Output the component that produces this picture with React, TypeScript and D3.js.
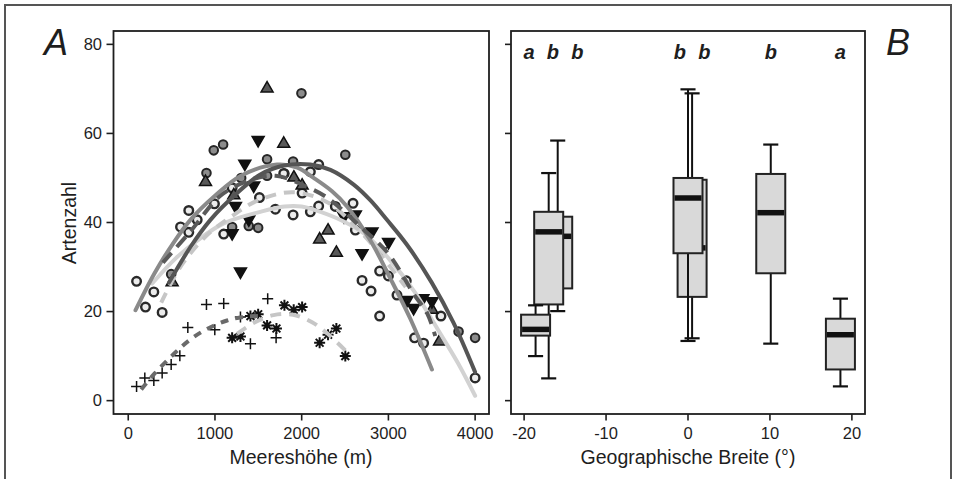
import React from "react";
import * as d3 from "d3";

// ---------- axis ticks ----------
const elevTicks = [0, 1000, 2000, 3000, 4000];
const richTicks = [0, 20, 40, 60, 80];
const latTicks = [-20, -10, 0, 10, 20];

// ---------- panel A: observations [Meereshöhe (m), Artenzahl] ----------
const circleGreyPts: [number, number][] = [
  [1997, 69], [2503, 55.2], [3809, 15.5], [4000, 14.1], [986, 56.2], [1094, 57.5],
  [1601, 54.2], [902, 51.1], [1302, 50], [1601, 50.5], [1800, 51], [1390, 39.2],
  [1498, 38.8], [1198, 39], [495, 28.4], [1901, 53.7],
];
const circleWhitePts: [number, number][] = [
  [96, 26.8], [199, 21], [295, 24.4], [391, 19.8], [603, 39], [698, 37.8], [795, 40.6],
  [698, 42.7], [1101, 37.4], [994, 44.2], [1198, 47.8], [1513, 45.6], [1697, 43],
  [1901, 41.7], [2196, 53], [2100, 51.4], [2005, 46.6], [2196, 43.7], [2100, 42.4],
  [2388, 43.6], [2592, 44.3], [2619, 38.3], [2899, 29.1], [2696, 27], [2800, 24.6],
  [3000, 28], [3206, 26.9], [3099, 23.7], [2899, 19], [3606, 19], [3302, 14.1],
  [3406, 12.9], [4000, 5.1], [1793, 51],
];
const triUpPts: [number, number][] = [
  [1601, 70.2], [1793, 57.8], [891, 49.2], [1910, 50.2], [2005, 48.4], [506, 26.7],
  [2207, 36.3], [2304, 38.3], [2400, 33.3], [3502, 20.5], [3590, 13.4], [1217, 46.2],
];
const triDownPts: [number, number][] = [
  [1498, 58.4], [1344, 53.1], [1447, 48.2], [1236, 43.6], [1390, 40.6], [1198, 37.5],
  [1294, 28.9], [2488, 41.3], [2619, 41.7], [2811, 37.9], [3002, 35.5], [2696, 33],
  [2906, 33.4], [3214, 22.5], [3291, 20.7], [3398, 22.9], [3502, 22.2],
];
const plusPts: [number, number][] = [
  [96, 3.2], [191, 5.1], [295, 4.5], [391, 6.2], [495, 8.1], [595, 10.1], [687, 16.4],
  [902, 21.6], [1101, 21.8], [998, 15.9], [1294, 18.8], [1409, 12.8], [1608, 22.9], [1705, 14.1],
];
const starPts: [number, number][] = [
  [1198, 14.1], [1294, 14.4], [1409, 19], [1498, 19.4], [1601, 16.9], [1709, 16.2],
  [1801, 21.4], [1908, 20.4], [2005, 21], [2207, 13], [2304, 14.8], [2400, 16.2], [2503, 10],
];

// ---------- panel A: fitted curves ----------
const fitDarkSolid: [number, number][] = [
  [470, 26.5], [717, 34.5], [948, 40.6], [1250, 46.5], [1524, 50.8], [1800, 52.8], [2100, 53],
  [2331, 51.8], [2600, 48.5], [2791, 45], [2983, 40.6], [3214, 35], [3500, 26.5], [3750, 17.5], [4000, 6.4],
];
const fitMidSolid: [number, number][] = [
  [84, 20.3], [300, 28.5], [506, 35], [717, 40.6], [1000, 46], [1300, 50.5], [1716, 53],
  [1950, 52.3], [2138, 50], [2350, 47], [2523, 43.6], [2791, 36], [3021, 27.5], [3250, 18.5], [3502, 7],
];
const fitLightSolid: [number, number][] = [
  [276, 26.3], [550, 32], [800, 36], [1101, 39.8], [1524, 42.4], [1800, 43.6], [2000, 43.6],
  [2138, 42.9], [2400, 41], [2714, 37.6], [3000, 32], [3300, 24.5], [3600, 15], [3800, 8.5], [4000, 1.1],
];
const fitLightDashed: [number, number][] = [
  [380, 22], [600, 30], [900, 37], [1200, 41.5], [1500, 45], [1900, 46.8], [2300, 44.5],
  [2600, 39.5], [2900, 33], [3200, 25.5],
];
const fitDarkDashed: [number, number][] = [
  [400, 31], [717, 38], [1063, 46], [1400, 49.5], [1700, 50.5], [2060, 48], [2300, 45.5],
  [2680, 39], [3000, 33], [3290, 24], [3450, 19.5], [3540, 14.5],
];
const fitPlus: [number, number][] = [
  [150, 2.5], [300, 6], [500, 10], [700, 13.5], [900, 16], [1140, 18], [1330, 18.8], [1500, 19],
];
const fitStar: [number, number][] = [
  [1255, 15], [1450, 17.5], [1675, 19.2], [1900, 19.3], [2120, 17.6], [2300, 15], [2503, 11.3],
];

// ---------- panel B: boxplots by Geographische Breite ----------
const boxLat = [-15.9, -17.0, -18.6, 0.5, 0.0, 10.1, 18.6];
const boxMin = [20.1, 5.0, 10.0, 14.0, 13.4, 12.8, 3.2];
const boxQ1 = [25.2, 21.6, 14.6, 23.3, 33.1, 28.6, 7.0];
const boxMed = [36.9, 37.9, 16.0, 34.3, 45.5, 42.2, 14.8];
const boxQ3 = [41.3, 42.4, 19.3, 49.6, 50.0, 50.9, 18.4];
const boxMax = [58.4, 51.1, 21.4, 69.0, 69.9, 57.5, 22.9];

const letterText = ["a", "b", "b", "b", "b", "b", "a"];
const letterLat = [-19.4, -16.5, -13.5, -1.0, 2.0, 10.1, 18.6];

const FONT = "'Liberation Sans', Arial, Helvetica, sans-serif";
const INK = "#1e1e1e";

function triPath(s: number, up: boolean) {
  const h = s * 0.866;
  return up
    ? `M0,${-h * 0.62}L${s / 2},${h * 0.38}L${-s / 2},${h * 0.38}Z`
    : `M0,${h * 0.62}L${s / 2},${-h * 0.38}L${-s / 2},${-h * 0.38}Z`;
}

export default function App() {
  const xA = d3.scaleLinear().domain([-170, 4160]).range([113.5, 489]);
  const yA = d3.scaleLinear().domain([-3, 83]).range([414, 31]);
  const xB = d3.scaleLinear().domain([-21.6, 21.6]).range([511, 865]);

  const lineGen = d3
    .line<[number, number]>()
    .x((d) => xA(d[0]))
    .y((d) => yA(d[1]))
    .curve(d3.curveCatmullRom.alpha(0.5));

  const curves: { pts: [number, number][]; color: string; dash?: string }[] = [
    { pts: fitLightSolid, color: "#d2d2d2" },
    { pts: fitLightDashed, color: "#c6c6c6", dash: "11 8" },
    { pts: fitMidSolid, color: "#8a8a8a" },
    { pts: fitDarkDashed, color: "#5a5a5a", dash: "13 8" },
    { pts: fitDarkSolid, color: "#555555" },
    { pts: fitPlus, color: "#6a6a6a", dash: "8 7" },
    { pts: fitStar, color: "#c6c6c6", dash: "11 8" },
  ];

  const boxHalf = 1.77;
  const capHalf = 0.92;

  return (
    <svg
      width={956}
      height={479}
      style={{ position: "absolute", left: 0, top: 0, display: "block", background: "#fff" }}
      fontFamily={FONT}
    >
      {/* outer frame */}
      <rect x={5} y={5} width={946} height={490} fill="none" stroke="#555" strokeWidth={2} />

      {/* ---------- Panel A ---------- */}
      <text x={44} y={55} fontSize={36} fontStyle="italic" fill={INK}>A</text>

      {/* points */}
      <g>
        {circleGreyPts.map((d, i) => (
          <circle key={"cg" + i} cx={xA(d[0])} cy={yA(d[1])} r={4.3} fill="#8c8c8c" stroke="#262626" strokeWidth={2} />
        ))}
        {circleWhitePts.map((d, i) => (
          <circle key={"cw" + i} cx={xA(d[0])} cy={yA(d[1])} r={4.3} fill="#ececec" stroke="#2a2a2a" strokeWidth={2.4} />
        ))}
        {triUpPts.map((d, i) => (
          <path key={"tu" + i} d={triPath(12, true)} transform={`translate(${xA(d[0])},${yA(d[1])})`} fill="#595959" stroke="#111" strokeWidth={1.5} />
        ))}
        {triDownPts.map((d, i) => (
          <path key={"td" + i} d={triPath(12, false)} transform={`translate(${xA(d[0])},${yA(d[1])})`} fill="#111" stroke="#111" strokeWidth={1.5} />
        ))}
        {plusPts.map((d, i) => (
          <path key={"pl" + i} d="M-5.5,0H5.5M0,-5.5V5.5" transform={`translate(${xA(d[0])},${yA(d[1])})`} stroke="#111" strokeWidth={1.5} fill="none" />
        ))}
        {starPts.map((d, i) => (
          <path key={"st" + i} d="M-5.5,0H5.5M0,-5.5V5.5M-3.9,-3.9L3.9,3.9M-3.9,3.9L3.9,-3.9" transform={`translate(${xA(d[0])},${yA(d[1])})`} stroke="#111" strokeWidth={2} fill="none" />
        ))}
      </g>

      {/* curves */}
      <g fill="none" strokeWidth={4} strokeLinecap="round">
        {curves.map((c, i) => (
          <path key={"c" + i} d={lineGen(c.pts) || ""} stroke={c.color} strokeDasharray={c.dash} strokeLinecap={c.dash ? "butt" : "round"} />
        ))}
      </g>

      {/* frame A */}
      <rect x={113.5} y={31} width={375.5} height={383} fill="none" stroke={INK} strokeWidth={1.8} />
      {richTicks.map((t) => (
        <g key={"ya" + t}>
          <line x1={106.5} x2={113.5} y1={yA(t)} y2={yA(t)} stroke={INK} strokeWidth={1.6} />
          <text x={102} y={yA(t)} dy="0.35em" textAnchor="end" fontSize={16.5} fill={INK}>{t}</text>
        </g>
      ))}
      {elevTicks.map((t) => (
        <g key={"xa" + t}>
          <line x1={xA(t)} x2={xA(t)} y1={414} y2={420.5} stroke={INK} strokeWidth={1.6} />
          <text x={xA(t)} y={433.5} dy="0.35em" textAnchor="middle" fontSize={16.5} fill={INK}>{t}</text>
        </g>
      ))}
      <text x={301} y={457.5} dy="0.35em" textAnchor="middle" fontSize={19.5} fill={INK}>Meereshöhe (m)</text>
      <text transform="translate(69,223) rotate(-90)" dy="0.35em" textAnchor="middle" fontSize={19.5} fill={INK}>Artenzahl</text>

      {/* ---------- Panel B ---------- */}
      <text x={886} y={54.5} fontSize={36} fontStyle="italic" fill={INK}>B</text>

      {boxLat.map((lat, i) => {
        const cx = xB(lat);
        const x0 = xB(lat - boxHalf);
        const x1 = xB(lat + boxHalf);
        const c0 = xB(lat - capHalf);
        const c1 = xB(lat + capHalf);
        return (
          <g key={"b" + i}>
            <line x1={cx} x2={cx} y1={yA(boxMax[i])} y2={yA(boxQ3[i])} stroke="#111" strokeWidth={2} />
            <line x1={cx} x2={cx} y1={yA(boxQ1[i])} y2={yA(boxMin[i])} stroke="#111" strokeWidth={2} />
            <line x1={c0} x2={c1} y1={yA(boxMax[i])} y2={yA(boxMax[i])} stroke="#111" strokeWidth={2.2} />
            <line x1={c0} x2={c1} y1={yA(boxMin[i])} y2={yA(boxMin[i])} stroke="#111" strokeWidth={2.2} />
            <rect x={x0} y={yA(boxQ3[i])} width={x1 - x0} height={yA(boxQ1[i]) - yA(boxQ3[i])} fill="#d9d9d9" stroke="#222" strokeWidth={2} />
            <line x1={x0 + 1} x2={x1 - 1} y1={yA(boxMed[i])} y2={yA(boxMed[i])} stroke="#111" strokeWidth={5.5} />
          </g>
        );
      })}

      {letterText.map((t, i) => (
        <text key={"l" + i} x={xB(letterLat[i])} y={58.5} textAnchor="middle" fontSize={20} fontWeight="bold" fontStyle="italic" fill={INK}>{t}</text>
      ))}

      <rect x={511} y={31} width={354} height={383} fill="none" stroke={INK} strokeWidth={1.8} />
      {richTicks.map((t) => (
        <line key={"yb" + t} x1={505} x2={511} y1={yA(t)} y2={yA(t)} stroke={INK} strokeWidth={1.6} />
      ))}
      {latTicks.map((t) => (
        <g key={"xb" + t}>
          <line x1={xB(t)} x2={xB(t)} y1={414} y2={420.5} stroke={INK} strokeWidth={1.6} />
          <text x={xB(t)} y={433.5} dy="0.35em" textAnchor="middle" fontSize={16.5} fill={INK}>{t}</text>
        </g>
      ))}
      <text x={688} y={457.5} dy="0.35em" textAnchor="middle" fontSize={19.5} fill={INK}>Geographische Breite (°)</text>
    </svg>
  );
}
